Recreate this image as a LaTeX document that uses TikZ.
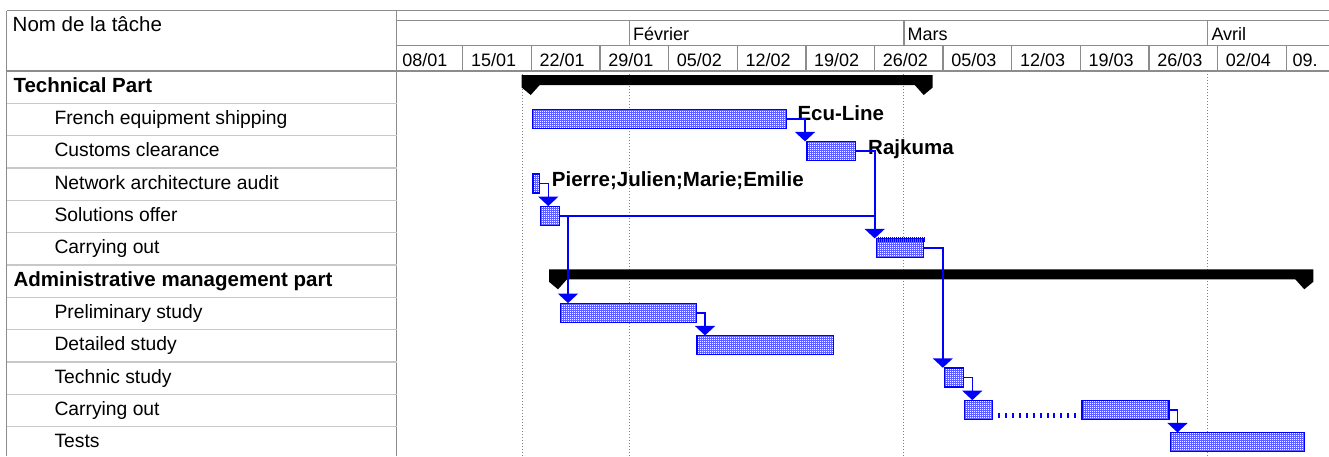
\documentclass[tikz,border=0pt]{standalone}
\usepackage{fontspec}
\setmainfont{Liberation Sans}
\usetikzlibrary{arrows.meta,patterns}
\pgfdeclarepatternformonly{ganttdots}{\pgfqpoint{-0.1pt}{-0.1pt}}{\pgfqpoint{2.1pt}{2.1pt}}{\pgfqpoint{2pt}{2pt}}{%
  \pgfpathrectangle{\pgfqpoint{0pt}{0pt}}{\pgfqpoint{1pt}{1pt}}\pgfusepath{fill}}
\definecolor{bblue}{RGB}{0,0,255}
\definecolor{bfill}{RGB}{95,95,255}
\definecolor{hdrgray}{RGB}{140,140,140}
\definecolor{rowgray}{RGB}{200,200,200}
\definecolor{gridgray}{RGB}{128,128,128}
\begin{document}
\begin{tikzpicture}[x=1pt,y=-1pt,
  tbar/.style={fill=bfill, postaction={pattern=ganttdots, pattern color=white},
    postaction={draw=bblue, line width=1.3pt}, inner sep=0pt, minimum height=19pt, anchor=north west},
  sumbar/.style={fill=black},
  link/.style={draw=bblue, line width=1.6pt, line join=miter},
  larrow/.style={-{Triangle[width=20pt,length=9.5pt]}},
  hline/.style={draw=hdrgray, line width=1.4pt},
  rowline/.style={draw=rowgray, line width=1.2pt},
  gridline/.style={draw=gridgray, line width=1pt, dash pattern=on 1pt off 2pt},
  splitline/.style={draw=bblue, line width=5pt, dash pattern=on 2pt off 4.9pt},
  combline/.style={draw=bblue, line width=5pt, dash pattern=on 1pt off 1pt},
  lbl/.style={font=\fontsize{19.3pt}{22pt}\selectfont, inner sep=0pt, anchor=base west},
  blbl/.style={font=\fontsize{20.5pt}{24pt}\selectfont\bfseries, inner sep=0pt, anchor=base west},
  hdr/.style={font=\fontsize{18pt}{21pt}\selectfont, inner sep=0pt, anchor=base west}
]
\clip (0,0) rectangle (1329,456);
\fill[white] (0,0) rectangle (1329,456);

% ---------- grid (dotted) ----------
\foreach \gx in {522,629.3,903.8,1207.75}
  \draw[gridline] (\gx,71) -- (\gx,456);

% ---------- header ----------
\draw[hline] (6.7,10.5) -- (1329,10.5);
\draw[hline] (396.7,20.5) -- (1329,20.5);
\draw[hline] (396.7,45.7) -- (1329,45.7);
\draw[hline] (6.7,71) -- (1329,71);
\draw[hline] (6.7,10.5) -- (6.7,456);
\draw[hline] (396.7,10.5) -- (396.7,456);
\foreach \mx in {629.3,903.8,1207.75}
  \draw[hline] (\mx,20.5) -- (\mx,45.7);
\foreach \k in {0,...,12}
  \draw[hline] ({462.7+68.625*\k},45.7) -- ({462.7+68.625*\k},71);
\foreach \k in {1,...,11}
  \draw[rowline] (6.7,{71+32.34*\k}) -- (396.7,{71+32.34*\k});

\node[lbl, font=\fontsize{20.5pt}{24pt}\selectfont] (nomtache) at (12.5,31) {Nom de la tâche};
\node[hdr] (mfev) at (632.8,40) {Février};
\node[hdr] (mmar) at (907.3,40) {Mars};
\node[hdr] (mavr) at (1211.3,40) {Avril};
\foreach \d [count=\i from 0] in {08/01,15/01,22/01,29/01,05/02,12/02,19/02,26/02,05/03,12/03,19/03,26/03,02/04}
  \node[hdr, anchor=base] (date\i) at ({424.9+68.625*\i},66) {\d};
\node[hdr] (date13) at (1292.5,66) {09.};

% ---------- task names ----------
\node[blbl] (n0) at (13.3,92) {Technical Part};
\node[lbl] (n1) at (54.3,124.34) {French equipment shipping};
\node[lbl] (n2) at (54.3,156.68) {Customs clearance};
\node[lbl] (n3) at (54.3,189.02) {Network architecture audit};
\node[lbl] (n4) at (54.3,221.36) {Solutions offer};
\node[lbl] (n5) at (54.3,253.7) {Carrying out};
\node[blbl] (n6) at (13.3,286.04) {Administrative management part};
\node[lbl] (n7) at (54.3,318.38) {Preliminary study};
\node[lbl] (n8) at (54.3,350.72) {Detailed study};
\node[lbl] (n9) at (54.3,383.06) {Technic study};
\node[lbl] (n10) at (54.3,415.4) {Carrying out};
\node[lbl] (n11) at (54.3,447.74) {Tests};

% ---------- summary bars ----------
\fill[sumbar] (521.7,75) -- (932.7,75) -- (932.7,87.5) -- (923.7,95) -- (914.7,85)
  -- (530.7+9,85) -- (530.7,95) -- (521.7,87.5) -- cycle;
\fill[sumbar] (549,269.3) -- (1313.3,269.3) -- (1313.3,281.8) -- (1304.3,289.3) -- (1295.3,279.3)
  -- (567,279.3) -- (558,289.3) -- (549,281.8) -- cycle;

% ---------- task bars ----------
\node[tbar, minimum width=254.2pt] (french)    at (532.4,109.04) {};
\node[tbar, minimum width=48.6pt]  (customs)   at (806.9,141.38) {};
\node[tbar, minimum width=6.6pt]   (network)   at (532.7,173.72) {};
\node[tbar, minimum width=19.3pt]  (solutions) at (540,206.06) {};
\node[tbar, minimum width=47pt]    (carrytech) at (876.6,238.4) {};
\node[tbar, minimum width=136pt]   (prelim)    at (560,303.08) {};
\node[tbar, minimum width=136.6pt] (detailed)  at (696.7,335.42) {};
\node[tbar, minimum width=19pt]    (technic)   at (944.3,367.76) {};
\node[tbar, minimum width=28.3pt]  (carryA)    at (964,400.1) {};
\node[tbar, minimum width=87pt]    (carryB)    at (1081.7,400.1) {};
\node[tbar, minimum width=134pt]   (tests)     at (1170,432.44) {};

\draw[combline] ([xshift=1pt,yshift=-1pt]carrytech.north west) -- ([yshift=-1pt]carrytech.north east);
\draw[splitline] ([xshift=5.5pt,yshift=3.6pt]carryA.south east) -- ([yshift=3.6pt]carryB.south west);

% ---------- resource labels ----------
\node[blbl] (ecu) at (797.3,120) {Ecu-Line};
\node[blbl] (raj) at (868,154) {Rajkuma};
\node[blbl] (pjme) at (551.7,186) {Pierre;Julien;Marie;Emilie};

% ---------- links ----------
\coordinate (v1) at (805,0);
\coordinate (v2) at (874.7,0);
\coordinate (v3) at (548.3,0);
\coordinate (v5) at (568,0);
\coordinate (v6) at (942.8,0);
\coordinate (v7) at (705,0);
\coordinate (v8) at (972.3,0);
\coordinate (v9) at (1177.5,0);

\draw[link,larrow] (french.east) -- (french.east -| v1) -- (v1 |- customs.north);
\draw[link,larrow] (customs.east) -- (customs.east -| v2) -- (v2 |- carrytech.north);
\draw[link] (solutions.east) -- (solutions.east -| v2);
\draw[link,larrow] (network.east) -- (network.east -| v3) -- (v3 |- solutions.north);
\draw[link,larrow] (solutions.east -| v5) -- (v5 |- prelim.north);
\draw[link,larrow] (carrytech.east) -- (carrytech.east -| v6) -- (v6 |- technic.north);
\draw[link,larrow] (prelim.east) -- (prelim.east -| v7) -- (v7 |- detailed.north);
\draw[link,larrow] (technic.east) -- (technic.east -| v8) -- (v8 |- carryA.north);
\draw[link,larrow] (carryB.east) -- (carryB.east -| v9) -- (v9 |- tests.north);
\end{tikzpicture}
\end{document}
